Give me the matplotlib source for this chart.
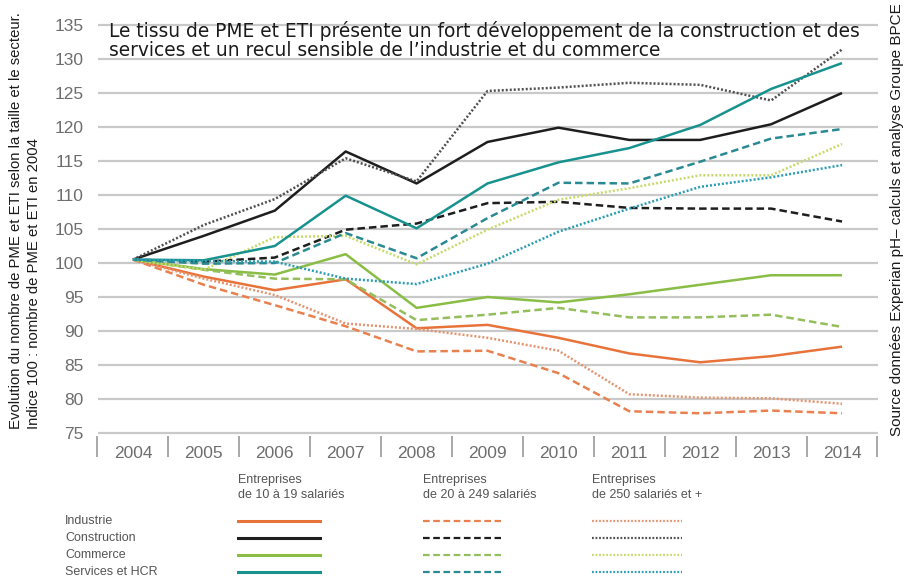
import matplotlib
matplotlib.use("Agg")
import matplotlib.pyplot as plt
from matplotlib.lines import Line2D

# ---------------------------------------------------------------------------
# Data (indice 100 = 2004)
# ---------------------------------------------------------------------------
years = [2004, 2005, 2006, 2007, 2008, 2009, 2010, 2011, 2012, 2013, 2014]

industrie_10_19 = [100.5, 98.0, 96.0, 97.6, 90.4, 90.9, 89.0, 86.7, 85.4, 86.3, 87.7]
industrie_20_249 = [100.5, 96.8, 93.8, 90.7, 87.0, 87.1, 83.8, 78.2, 77.9, 78.3, 77.9]
industrie_250 = [100.5, 97.7, 95.3, 91.1, 90.3, 89.0, 87.1, 80.7, 80.2, 80.1, 79.3]

construction_10_19 = [100.5, 104.0, 107.7, 116.4, 111.7, 117.8, 119.9, 118.1, 118.1, 120.4, 125.0]
construction_20_249 = [100.5, 100.2, 100.8, 104.9, 105.8, 108.8, 109.0, 108.1, 108.0, 108.0, 106.1]
construction_250 = [100.5, 105.6, 109.4, 115.4, 112.0, 125.3, 125.8, 126.5, 126.2, 123.9, 131.4]

commerce_10_19 = [100.5, 99.1, 98.3, 101.3, 93.4, 95.0, 94.2, 95.4, 96.8, 98.2, 98.2]
commerce_20_249 = [100.5, 99.0, 97.7, 97.6, 91.6, 92.4, 93.4, 92.0, 92.0, 92.4, 90.6]
commerce_250 = [100.5, 99.0, 103.8, 104.0, 99.8, 104.9, 109.3, 111.0, 112.9, 112.9, 117.5]

services_10_19 = [100.5, 100.4, 102.5, 109.9, 105.1, 111.7, 114.8, 116.9, 120.3, 125.6, 129.4]
services_20_249 = [100.5, 99.9, 100.0, 104.4, 100.7, 106.6, 111.8, 111.7, 114.9, 118.3, 119.7]
services_250 = [100.5, 100.3, 100.2, 97.7, 96.9, 99.9, 104.6, 108.0, 111.2, 112.6, 114.4]

sectors = ["Industrie", "Construction", "Commerce", "Services et HCR"]
size_labels = ["Entreprises\nde 10 à 19 salariés",
               "Entreprises\nde 20 à 249 salariés",
               "Entreprises\nde 250 salariés et +"]
series = [
    [industrie_10_19, industrie_20_249, industrie_250],
    [construction_10_19, construction_20_249, construction_250],
    [commerce_10_19, commerce_20_249, commerce_250],
    [services_10_19, services_20_249, services_250],
]

title = ("Le tissu de PME et ETI présente un fort développement de la construction et des\n"
         "services et un recul sensible de l\u2019industrie et du commerce")
ylabel = ("Evolution du nombre de PME et ETI selon la taille et le secteur.\n"
          "Indice 100 : nombre de PME et ETI en 2004")
source = "Source données Experian pH\u2013 calculs et analyse Groupe BPCE"

# ---------------------------------------------------------------------------
# Styles
# ---------------------------------------------------------------------------
_COLORS = [
    ["#e8733a", "#e8804f", "#e49470"],   # industrie
    ["#1e1e1e", "#1e1e1e", "#505050"],   # construction
    ["#8abd45", "#94be5c", "#c6db6c"],   # commerce
    ["#18928e", "#2a8a94", "#2a9db4"],   # services
]
_STYLES = ["-", (0, (3.0, 1.6)), (0, (0.8, 0.8))]
_GRID = "#c9c9c9"
_TICK = "#6e6e6e"
_SANS = ["Liberation Sans", "DejaVu Sans"]
_LEG_FONT = ["Liberation Sans Narrow", "Liberation Sans", "DejaVu Sans"]

fig = plt.figure(figsize=(9.06, 5.78), dpi=100)
ax = fig.add_axes([97.5 / 906, 1 - 436.4 / 578, 780 / 906, (436.4 - 21.6) / 578])

for i, sec in enumerate(series):
    for j, vals in enumerate(sec):
        ax.plot(years, vals, color=_COLORS[i][j], linestyle=_STYLES[j],
                linewidth=1.8, zorder=3, solid_capstyle="butt")

ax.set_xlim(2003.5, 2014.5)
ax.set_ylim(74.5, 135.5)
ax.set_yticks(range(75, 136, 5))
ax.set_xticks(years)
ax.set_xticks([y + 0.5 for y in [2003] + years], minor=True)
ax.yaxis.grid(True, color=_GRID, linewidth=1.6, zorder=0)
for s in ax.spines.values():
    s.set_visible(False)
ax.tick_params(axis="y", length=0, pad=10, labelsize=12.5, labelcolor=_TICK)
ax.tick_params(axis="x", which="major", length=0, pad=7, labelsize=12.5, labelcolor=_TICK)
ax.tick_params(axis="x", which="minor", length=15, width=1.2, color="#9a9a9a", direction="out")
for lab in ax.get_xticklabels() + ax.get_yticklabels():
    lab.set_family(_SANS)

ax.text(2003.66, 135.6, title, fontsize=13.4, color="#1a1a1a", va="top", ha="left",
        linespacing=1.0, family="DejaVu Sans", zorder=4)

fig.text(9 / 906, 1 - 221 / 578, ylabel, rotation=90, ha="left", va="center",
         fontsize=10.7, color="#1a1a1a", linespacing=1.35, family=_SANS)
fig.text(897 / 906, 1 - 220 / 578, source, rotation=90, ha="center", va="center",
         fontsize=11, color="#1a1a1a", family=_SANS)

# ---------------------------------------------------------------------------
# Hand-built legend grid below the plot
# ---------------------------------------------------------------------------
col_x = [238, 423, 592]
col_w = [82, 78, 90]
row_y = [521, 538, 555, 572]
for j, lab in enumerate(size_labels):
    fig.text(col_x[j] / 906, 1 - 474 / 578, lab, ha="left", va="top", fontsize=9,
             color="#555555", linespacing=1.3, family=_LEG_FONT)
for i, sec in enumerate(sectors):
    yy = 1 - row_y[i] / 578
    fig.text(65 / 906, yy, sec, ha="left", va="center", fontsize=9,
             color="#555555", family=_LEG_FONT)
    for j in range(3):
        fig.add_artist(Line2D([col_x[j] / 906, (col_x[j] + col_w[j]) / 906], [yy, yy],
                              transform=fig.transFigure, color=_COLORS[i][j],
                              linestyle=_STYLES[j], linewidth=2.2 if j == 0 else 1.6))

fig.savefig("out.png", dpi=100)
